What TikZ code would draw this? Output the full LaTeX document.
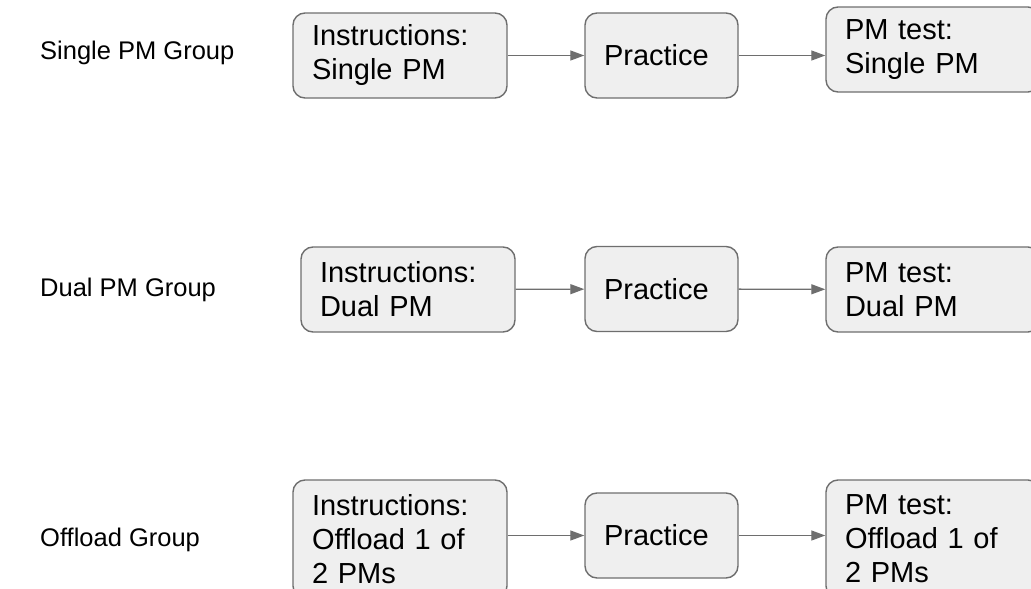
\documentclass[tikz,border=0pt]{standalone}
\usepackage{fontspec}
\setmainfont{Liberation Sans}
\usepackage{tikz}
\usetikzlibrary{arrows.meta}
\definecolor{boxfill}{HTML}{EFEFEF}
\definecolor{boxline}{HTML}{6E6E6E}

\begin{document}
\begin{tikzpicture}[x=1pt, y=-1pt,
		stage/.style={draw=boxline, line width=1.4pt, fill=boxfill, rounded corners=12pt,
			inner xsep=19pt, inner ysep=3pt, align=left, minimum height=85pt,
			font=\fontsize{29}{34}\selectfont},
		wide/.style={stage, text width=176pt},
		narrow/.style={stage, text width=115pt},
		grp/.style={anchor=west, inner sep=0pt, font=\fontsize{25.5}{30}\selectfont},
		flow/.style={draw=boxline, line width=1.3pt, -{Triangle[length=14pt, width=10pt]}}]
		\useasboundingbox (0,0) rectangle (1031,589);
		\clip (0,0) rectangle (1031,589);
		% single
		\node(single)[grp] at (40,53){Single PM Group};
		\node(inst1)[wide] at (400,55.5){Instructions:\\Single PM};
		\node(prac1)[narrow] at (661.5,55.5){Practice};
		\node(test1)[wide] at (933,49.5){PM test:\\Single PM};
		\draw[flow](inst1) -- (prac1);
		\draw[flow](prac1.east) -- (prac1.east -| test1.west);
		% dual
		\node(dual)[grp] at (40,290){Dual PM Group};
		\node(inst2)[wide] at (408,289.5){Instructions:\\Dual PM};
		\node(prac2)[narrow] at (661.5,289){Practice};
		\node(test2)[wide] at (933,289.5){PM test:\\Dual PM};
		\draw[flow](inst2) -- (prac2);
		\draw[flow](prac2) -- (test2);
		% offload
		\node(offload)[grp] at (40,540){Offload Group};
		\node(inst3)[wide, minimum height=118pt] at (400,539){Instructions:\\Offload 1 of\\2 PMs};
		\node(prac3)[narrow] at (661.5,535.5){Practice};
		\node(test3)[wide, minimum height=118pt] at (933,539){PM test:\\Offload 1 of\\2 PMs};
		\draw[flow](inst3.east |- prac3.west) -- (prac3.west);
		\draw[flow](prac3.east) -- (prac3.east -| test3.west);
	\end{tikzpicture}
\end{document}
